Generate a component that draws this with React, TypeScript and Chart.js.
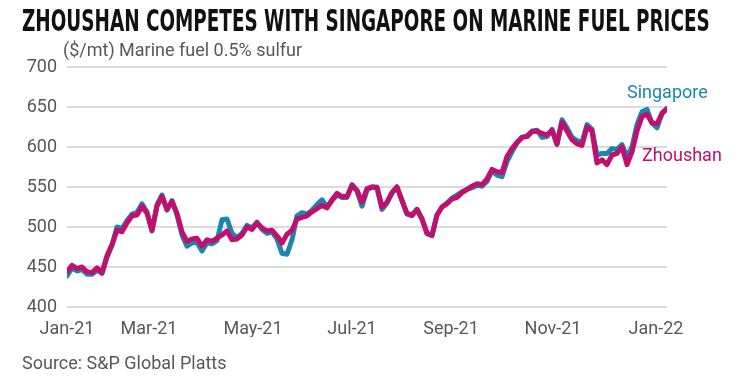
import React, { useEffect, useLayoutEffect, useRef } from "react";
import { Chart, registerables } from "chart.js";

Chart.register(...registerables);

// Sampled price series ($/mt), Jan 2021 – early Jan 2022
const zhoushan = [
  444, 452, 448, 450, 444, 443, 449, 443, 464, 478,
  496, 494, 505, 514, 515, 526, 517, 496, 526, 538,
  522, 532, 517, 494, 482, 485, 486, 476, 484, 482,
  486, 490, 495, 484, 485, 490, 500, 497, 505, 499,
  495, 496, 489, 480, 491, 496, 510, 512, 514, 519,
  523, 527, 524, 534, 542, 538, 538, 552, 546, 531,
  548, 550, 549, 525, 531, 543, 550, 533, 517, 515,
  522, 510, 492, 490, 515, 525, 529, 535, 537, 543,
  547, 551, 554, 553, 560, 572, 569, 568, 588, 598,
  606, 612, 613, 619, 620, 617, 615, 621, 604, 631,
  620, 609, 604, 602, 625, 620, 580, 584, 578, 590,
  592, 600, 578, 594, 620, 638, 641, 630, 629, 642,
  648,
];

const singapore = [
  439, 449, 445, 447, 441, 441, 446, 442, 462, 477,
  500, 498, 508, 516, 518, 529, 519, 495, 528, 540,
  521, 533, 515, 490, 476, 480, 481, 470, 480, 479,
  483, 509, 510, 492, 487, 492, 502, 499, 506, 497,
  492, 494, 485, 467, 466, 484, 514, 518, 516, 521,
  528, 534, 525, 533, 540, 537, 537, 553, 545, 526,
  546, 550, 550, 522, 530, 543, 550, 533, 516, 514,
  522, 510, 492, 489, 515, 525, 530, 536, 540, 544,
  547, 549, 552, 551, 557, 570, 565, 563, 582, 594,
  605, 612, 614, 620, 621, 612, 613, 622, 603, 634,
  624, 612, 608, 606, 628, 622, 590, 592, 592, 598,
  597, 603, 588, 600, 628, 644, 647, 630, 624, 642,
  648,
];

// Axis ticks (x positions are sample indexes where the months begin)
const xTickPositions = [0, 16.4, 37.2, 57, 76.8, 97.2, 117.8];
const xTickLabels = ["Jan-21", "Mar-21", "May-21", "Jul-21", "Sep-21", "Nov-21", "Jan-22"];
const yMin = 400;
const yMax = 700;
const yStep = 50;

const TEAL = "#1a87b2";
const MAGENTA = "#c20f6d";
const TEXT = "#585858";
const FONT = "Roboto, 'Noto Sans', sans-serif";

export default function App() {
  const canvasRef = useRef<HTMLCanvasElement>(null);
  const titleRef = useRef<HTMLDivElement>(null);

  useLayoutEffect(() => {
    const el = titleRef.current;
    if (!el) return;
    const w = el.scrollWidth;
    if (w > 0) el.style.transform = `scaleX(${688 / w})`;
  }, []);

  useEffect(() => {
    const canvas = canvasRef.current;
    if (!canvas) return;
    const tickFont = { family: FONT, size: 18 };
    const chart = new Chart(canvas, {
      type: "line",
      data: {
        datasets: [
          {
            label: "Zhoushan",
            data: zhoushan.map((v, i) => ({ x: i, y: v })),
            borderColor: MAGENTA,
            borderWidth: 5,
            pointRadius: 0,
            borderJoinStyle: "round",
            borderCapStyle: "round",
            tension: 0,
            order: 0,
          },
          {
            label: "Singapore",
            data: singapore.map((v, i) => ({ x: i, y: v })),
            borderColor: TEAL,
            borderWidth: 5,
            pointRadius: 0,
            borderJoinStyle: "round",
            borderCapStyle: "round",
            tension: 0,
            order: 1,
          },
        ],
      },
      options: {
        responsive: false,
        animation: false,
        devicePixelRatio: 1,
        layout: { padding: { top: 67, right: 78, bottom: 43, left: 0 } },
        plugins: {
          legend: { display: false },
          tooltip: { enabled: false },
          title: { display: false },
        },
        scales: {
          x: {
            type: "linear",
            min: 0,
            max: zhoushan.length - 1,
            grid: { display: false },
            border: { display: false },
            afterBuildTicks: (scale: any) => {
              scale.ticks = xTickPositions.map((v) => ({ value: v }));
            },
            afterFit: (scale: any) => {
              scale.height = 30;
            },
            ticks: {
              autoSkip: false,
              maxRotation: 0,
              minRotation: 0,
              padding: 4,
              color: TEXT,
              font: tickFont,
              callback: (_v: any, i: number) => xTickLabels[i],
            },
          },
          y: {
            min: yMin,
            max: yMax,
            afterFit: (scale: any) => {
              scale.width = 67;
            },
            grid: { color: "#dcdcdc", lineWidth: 2, drawTicks: false },
            border: { display: false },
            ticks: {
              stepSize: yStep,
              padding: 10,
              color: TEXT,
              font: tickFont,
            },
          },
        },
      },
    });
    return () => chart.destroy();
  }, []);

  const abs: React.CSSProperties = {
    position: "absolute",
    whiteSpace: "nowrap",
    lineHeight: 1,
    fontFamily: FONT,
  };

  return (
    <div style={{ position: "absolute", left: 0, top: 0, width: 745, height: 380, background: "#fff", overflow: "hidden" }}>
      <canvas ref={canvasRef} width={745} height={380} style={{ position: "absolute", left: 0, top: 0, width: 745, height: 380 }} />
      <div
        ref={titleRef}
        style={{
          ...abs,
          left: 22,
          top: 6,
          fontSize: 30,
          fontWeight: 700,
          color: "#111",
          transformOrigin: "left top",
          fontFamily: "'Liberation Sans Narrow', 'DejaVu Sans Condensed', Roboto, sans-serif",
        }}
      >
        ZHOUSHAN COMPETES WITH SINGAPORE ON MARINE FUEL PRICES
      </div>
      <div style={{ ...abs, left: 63, top: 41, fontSize: 18, color: TEXT }}>($/mt) Marine fuel 0.5% sulfur</div>
      <div style={{ ...abs, left: 627, top: 83, fontSize: 18, color: TEAL }}>Singapore</div>
      <div style={{ ...abs, left: 642, top: 146, fontSize: 18, color: MAGENTA }}>Zhoushan</div>
      <div style={{ ...abs, left: 22, top: 354, fontSize: 18, color: TEXT }}>Source: S&amp;P Global Platts</div>
    </div>
  );
}
